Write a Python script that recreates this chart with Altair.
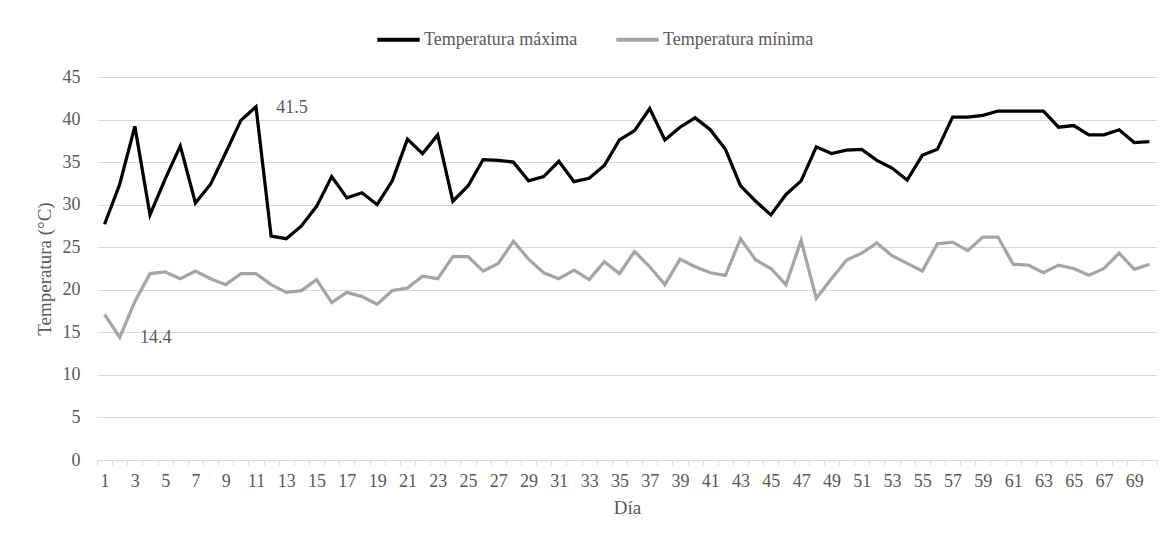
import altair as alt
import pandas as pd

days = list(range(1, 71))
temp_max = [27.7, 32.4, 39.2, 28.8, 33.0, 36.9, 30.2, 32.4, 36.1, 39.9,
            41.5, 26.3, 26.0, 27.5, 29.8, 33.3, 30.8, 31.4, 30.0, 32.8,
            37.7, 36.0, 38.2, 30.4, 32.2, 35.3, 35.2, 35.0, 32.8, 33.3,
            35.1, 32.7, 33.1, 34.6, 37.6, 38.7, 41.3, 37.6, 39.1, 40.2,
            38.8, 36.5, 32.2, 30.4, 28.8, 31.2, 32.8, 36.8, 36.0, 36.4,
            36.5, 35.2, 34.3, 32.9, 35.8, 36.5, 40.3, 40.3, 40.5, 41.0,
            41.0, 41.0, 41.0, 39.1, 39.3, 38.2, 38.2, 38.8, 37.3, 37.4]
temp_min = [17.1, 14.4, 18.6, 21.9, 22.1, 21.3, 22.2, 21.3, 20.6, 21.9,
            21.9, 20.6, 19.7, 19.9, 21.2, 18.5, 19.7, 19.2, 18.3, 19.9,
            20.2, 21.6, 21.3, 23.9, 23.9, 22.2, 23.1, 25.7, 23.6, 22.0,
            21.3, 22.3, 21.2, 23.3, 21.9, 24.5, 22.7, 20.6, 23.6, 22.7,
            22.0, 21.7, 26.0, 23.5, 22.5, 20.6, 25.8, 19.0, 21.3, 23.5,
            24.3, 25.5, 24.0, 23.1, 22.2, 25.4, 25.6, 24.6, 26.2, 26.2,
            23.0, 22.9, 22.0, 22.9, 22.5, 21.7, 22.5, 24.3, 22.4, 23.0]
series_names = ["Temperatura máxima", "Temperatura mínima"]
series_colors = ["#000000", "#a5a5a5"]
ann_days = [11, 2]
ann_values = [41.5, 14.4]
ann_labels = ["41.5", "14.4"]

df = pd.concat([
    pd.DataFrame({"Día": days, "Temp": temp_max, "Serie": series_names[0]}),
    pd.DataFrame({"Día": days, "Temp": temp_min, "Serie": series_names[1]}),
])
ann = pd.DataFrame({"Día": ann_days, "Temp": ann_values, "label": ann_labels})

FONT = "Liberation Serif"
TXT = "#595959"
GRID = "#d9d9d9"

axis_style = dict(
    labelFont=FONT,
    titleFont=FONT,
    labelFontSize=18,
    titleFontSize=19,
    labelColor=TXT,
    titleColor=TXT,
    titleFontWeight="normal",
)

x_enc = alt.X(
    "Día:O",
    bandPosition=0.5,
    scale=alt.Scale(type="band", paddingInner=0, paddingOuter=0),
    axis=alt.Axis(
        title="Día",
        labelAngle=0,
        labelOverlap=False,
        labelExpr="datum.value % 2 == 1 ? datum.label : ''",
        tickBand="extent",
        tickSize=5,
        tickColor=GRID,
        domainColor=GRID,
        labelPadding=7,
        titlePadding=8,
        grid=False,
        **axis_style,
    ),
)
y_enc = alt.Y(
    "Temp:Q",
    scale=alt.Scale(domain=[0, 45]),
    axis=alt.Axis(
        title="Temperatura (°C)",
        values=list(range(0, 50, 5)),
        ticks=False,
        domain=False,
        gridColor=GRID,
        labelPadding=17,
        titlePadding=8,
        **axis_style,
    ),
)

lines = alt.Chart(df).mark_line(strokeWidth=3.25).encode(
    x=x_enc,
    y=y_enc,
    color=alt.Color(
        "Serie:N",
        scale=alt.Scale(domain=series_names, range=series_colors),
        legend=alt.Legend(
            title=None,
            orient="none",
            direction="horizontal",
            legendX=278,
            legendY=-61,
            symbolType="stroke",
            symbolSize=1800,
            symbolStrokeWidth=4,
            labelFontSize=18,
            labelFont=FONT,
            labelColor=TXT,
            labelOffset=2,
            columnPadding=30,
        ),
    ),
    detail="Serie:N",
)

texts = alt.Chart(ann).mark_text(
    font=FONT, fontSize=18, color=TXT, dx=36, dy=1, align="center", baseline="middle"
).encode(
    x=alt.X("Día:O", bandPosition=0.5),
    y=alt.Y("Temp:Q"),
    text="label:N",
)

chart = alt.layer(lines, texts).properties(
    width=1060,
    height=383,
    background="white",
    autosize=alt.AutoSizeParams(type="none"),
    padding={"left": 89, "top": 69, "right": 7, "bottom": 77},
).configure_view(
    stroke=None
)

chart.save("out.html", embed_options={"renderer": "svg", "actions": False})
